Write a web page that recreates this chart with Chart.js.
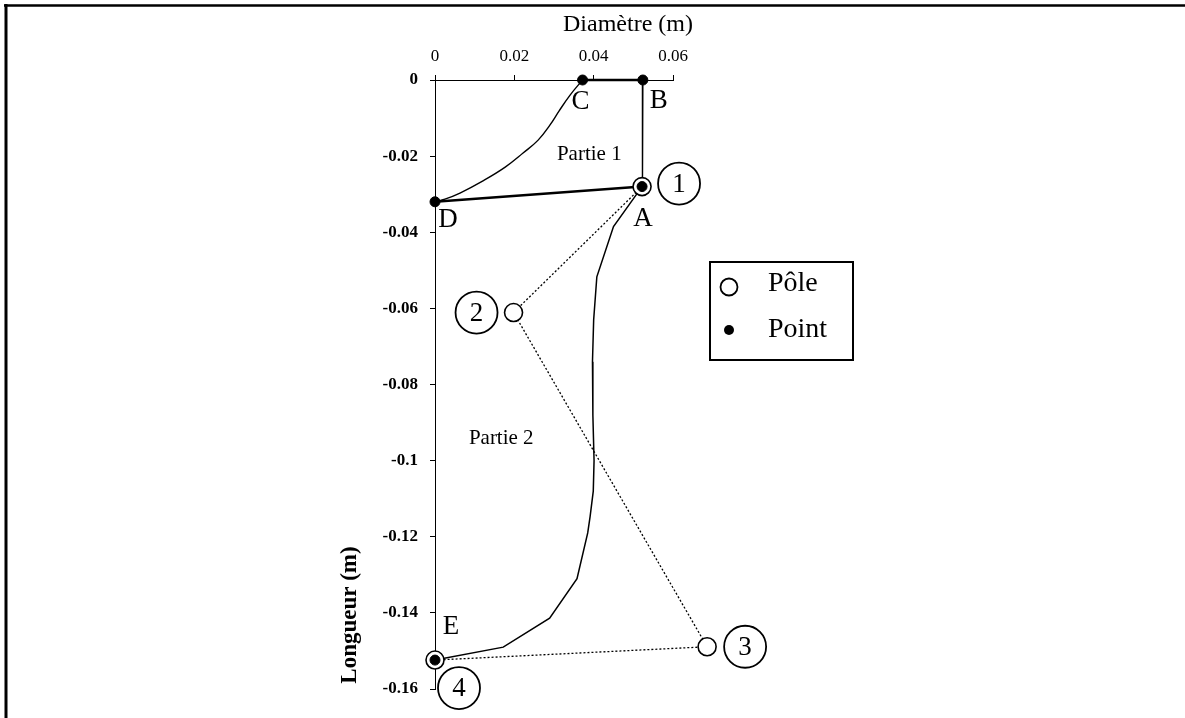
<!DOCTYPE html>
<html>
<head>
<meta charset="utf-8">
<script src="https://cdn.jsdelivr.net/npm/chart.js@4.4.0/dist/chart.umd.min.js"></script>
<style>
  html, body { margin: 0; padding: 0; background: #fff; }
  #wrap { width: 1185px; height: 718px; }
</style>
</head>
<body>
<div id="wrap"><canvas id="chart" width="1185" height="718"></canvas></div>
<script>
/* Profil de la pièce : partie 1 (C-B-A-D) et partie 2 (A -> E),
   avec les pôles 1..4 reliés en pointillés. Valeurs en mètres. */

// arc C -> D (partie 1)
var arcCD_x = [0.0372, 0.0341, 0.0313, 0.0290, 0.0260, 0.0222, 0.0177, 0.0121, 0.0063, 0.0025, 0];
var arcCD_y = [0, -0.0039, -0.0081, -0.0118, -0.0158, -0.0192, -0.0229, -0.0265, -0.0297, -0.0313, -0.0320];

// bord supérieur C -> B (trait épais)
var bordCB_x = [0.0372, 0.0524];
var bordCB_y = [0, 0];

// flanc B -> A
var flancBA_x = [0.0524, 0.0524, 0.0522];
var flancBA_y = [0, -0.0237, -0.0280];

// base D -> A (trait épais)
var baseDA_x = [0, 0.0522];
var baseDA_y = [-0.0320, -0.0280];

// profil de la partie 2 : A -> E
var profil2_x = [0.0522, 0.0450, 0.0408, 0.0400, 0.0397, 0.0398, 0.0401, 0.0399, 0.0391, 0.0385, 0.0358, 0.0289, 0.0172, 0];
var profil2_y = [-0.0280, -0.0385, -0.0517, -0.0630, -0.0740, -0.0880, -0.1000, -0.1080, -0.1147, -0.1190, -0.1310, -0.1414, -0.1490, -0.1524];

// pôles 1..4
var pole_x = [0.0522, 0.0198, 0.0686, 0];
var pole_y = [-0.0280, -0.0611, -0.1489, -0.1524];
var pole_num = ['1', '2', '3', '4'];

// points nommés
var point_x = [0.0372, 0.0524, 0.0522, 0, 0];
var point_y = [0, 0, -0.0280, -0.0320, -0.1524];
var point_nom = ['C', 'B', 'A', 'D', 'E'];

// étiquettes des parties
var partie_nom = ['Partie 1', 'Partie 2'];
var partie_x = [0.0389, 0.0167];
var partie_y = [-0.0197, -0.0943];

// graduations
var xTicks = [0, 0.02, 0.04, 0.06];
var yTicks = [0, -0.02, -0.04, -0.06, -0.08, -0.1, -0.12, -0.14, -0.16];

function pts(xs, ys) {
  return xs.map(function(x, i) { return {x: x, y: ys[i]}; });
}

function fmt(v) { return String(Math.round(v * 100) / 100); }

var SERIF = '"Liberation Serif", "Times New Roman", serif';
var POLE_R = 9;

// décalages (px) des lettres et des numéros par rapport à leur point
var nameOffset = {C: [-2, 22], B: [16, 21], A: [1, 32], D: [13, 18], E: [16, -33]};
var numOffset = [[37, -3], [-37, 0], [38, 0], [24, 28]];

var annotations = {
  id: 'annotations',
  // Chart.js ne dessine pas les points hors de la zone du graphe (pôle 3) :
  // on les ajoute juste après le jeu "Pôle", donc sous les points pleins.
  afterDatasetDraw: function(chart, args) {
    if (args.index !== 1) return;
    var ctx = chart.ctx, xs = chart.scales.x, ys = chart.scales.y, a = chart.chartArea;
    var m = POLE_R + 1;
    ctx.save();
    ctx.fillStyle = '#fff';
    ctx.strokeStyle = '#000';
    ctx.lineWidth = 1.6;
    pole_x.forEach(function(x, i) {
      var px = xs.getPixelForValue(x), py = ys.getPixelForValue(pole_y[i]);
      if (px > a.left - m && px < a.right + m && py > a.top - m && py < a.bottom + m) return;
      ctx.beginPath();
      ctx.arc(px, py, POLE_R, 0, Math.PI * 2);
      ctx.fill();
      ctx.stroke();
    });
    ctx.restore();
  },
  afterDraw: function(chart) {
    var ctx = chart.ctx, xs = chart.scales.x, ys = chart.scales.y;
    ctx.save();
    ctx.fillStyle = '#000';
    ctx.strokeStyle = '#000';
    ctx.textAlign = 'center';
    ctx.textBaseline = 'middle';

    // lettres
    ctx.font = '27px ' + SERIF;
    point_nom.forEach(function(n, i) {
      var o = nameOffset[n];
      ctx.fillText(n, xs.getPixelForValue(point_x[i]) + o[0], ys.getPixelForValue(point_y[i]) + o[1]);
    });

    // numéros cerclés
    ctx.lineWidth = 1.8;
    pole_num.forEach(function(n, i) {
      var cx = xs.getPixelForValue(pole_x[i]) + numOffset[i][0];
      var cy = ys.getPixelForValue(pole_y[i]) + numOffset[i][1];
      ctx.beginPath();
      ctx.arc(cx, cy, 21, 0, Math.PI * 2);
      ctx.stroke();
      ctx.fillText(n, cx, cy + 1);
    });

    // parties
    ctx.font = '21px ' + SERIF;
    partie_nom.forEach(function(n, i) {
      ctx.fillText(n, xs.getPixelForValue(partie_x[i]), ys.getPixelForValue(partie_y[i]));
    });

    // titres des axes
    ctx.font = '24px ' + SERIF;
    ctx.fillText('Diamètre (m)', xs.right - 45, xs.top - 15);
    ctx.save();
    ctx.translate(ys.left - 25, ys.bottom - 74);
    ctx.rotate(-Math.PI / 2);
    ctx.font = 'bold 23px ' + SERIF;
    ctx.fillText('Longueur (m)', 0, 0);
    ctx.restore();

    // légende
    var lx = xs.right + 37, ly = ys.top + 182;
    ctx.lineWidth = 2;
    ctx.strokeRect(lx, ly, 143, 98);
    ctx.lineWidth = 1.8;
    ctx.beginPath();
    ctx.arc(lx + 19, ly + 25, 8.5, 0, Math.PI * 2);
    ctx.stroke();
    ctx.beginPath();
    ctx.arc(lx + 19, ly + 68, 5, 0, Math.PI * 2);
    ctx.fill();
    ctx.textAlign = 'left';
    ctx.font = '28px ' + SERIF;
    ctx.fillText(chart.data.datasets[1].label, lx + 58, ly + 22);
    ctx.fillText(chart.data.datasets[0].label, lx + 58, ly + 68);

    // cadre (haut et gauche)
    ctx.lineWidth = 2.5;
    ctx.beginPath();
    ctx.moveTo(4, 5.5);
    ctx.lineTo(1185, 5.5);
    ctx.stroke();
    ctx.lineWidth = 3;
    ctx.beginPath();
    ctx.moveTo(6, 4);
    ctx.lineTo(6, 718);
    ctx.stroke();
    ctx.restore();
  }
};

function lineSet(label, data, width, dash, tension, order) {
  return {
    label: label, data: data, showLine: true, pointRadius: 0,
    borderColor: '#000', borderWidth: width, borderDash: dash || [],
    tension: tension || 0, clip: false, order: order
  };
}

var chart = new Chart(document.getElementById('chart'), {
  type: 'scatter',
  data: {
    datasets: [
      {
        label: 'Point', data: pts(point_x, point_y),
        pointRadius: 5, pointBackgroundColor: '#000', pointBorderColor: '#000',
        showLine: false, clip: false, order: 0
      },
      {
        label: 'Pôle', data: pts(pole_x, pole_y),
        pointRadius: POLE_R, pointBackgroundColor: '#fff', pointBorderColor: '#000', pointBorderWidth: 1.6,
        showLine: false, clip: false, order: 1
      },
      lineSet('Pôles', pts(pole_x, pole_y), 1.3, [2, 2], 0, 2),
      lineSet('Arc CD', pts(arcCD_x, arcCD_y), 1.4, null, 0.4, 3),
      lineSet('Bord CB', pts(bordCB_x, bordCB_y), 2.6, null, 0, 3),
      lineSet('Flanc BA', pts(flancBA_x, flancBA_y), 1.4, null, 0, 3),
      lineSet('Base DA', pts(baseDA_x, baseDA_y), 2.6, null, 0, 3),
      lineSet('Partie 2', pts(profil2_x, profil2_y), 1.5, null, 0, 3)
    ]
  },
  options: {
    responsive: false,
    animation: false,
    layout: { padding: { left: 375, right: 512, top: 40, bottom: 29 } },
    plugins: { legend: { display: false }, tooltip: { enabled: false } },
    scales: {
      x: {
        type: 'linear', position: 'top', min: 0, max: 0.06,
        afterBuildTicks: function(s) { s.ticks = xTicks.map(function(v) { return {value: v}; }); },
        afterFit: function(s) { s.height = 40; },
        grid: { drawOnChartArea: false, tickLength: 5, color: '#000' },
        border: { color: '#000', width: 1 },
        ticks: { padding: 8, color: '#000', maxRotation: 0, autoSkip: false,
                 font: { family: SERIF, size: 17 }, callback: fmt }
      },
      y: {
        type: 'linear', position: 'left', min: -0.16, max: 0,
        afterBuildTicks: function(s) { s.ticks = yTicks.map(function(v) { return {value: v}; }); },
        afterFit: function(s) { s.width = 60; },
        grid: { drawOnChartArea: false, tickLength: 5, color: '#000' },
        border: { color: '#000', width: 1 },
        ticks: { padding: 12, color: '#000', autoSkip: false,
                 font: { family: SERIF, size: 17, weight: 'bold' }, callback: fmt }
      }
    }
  },
  plugins: [annotations]
});
</script>
</body>
</html>
